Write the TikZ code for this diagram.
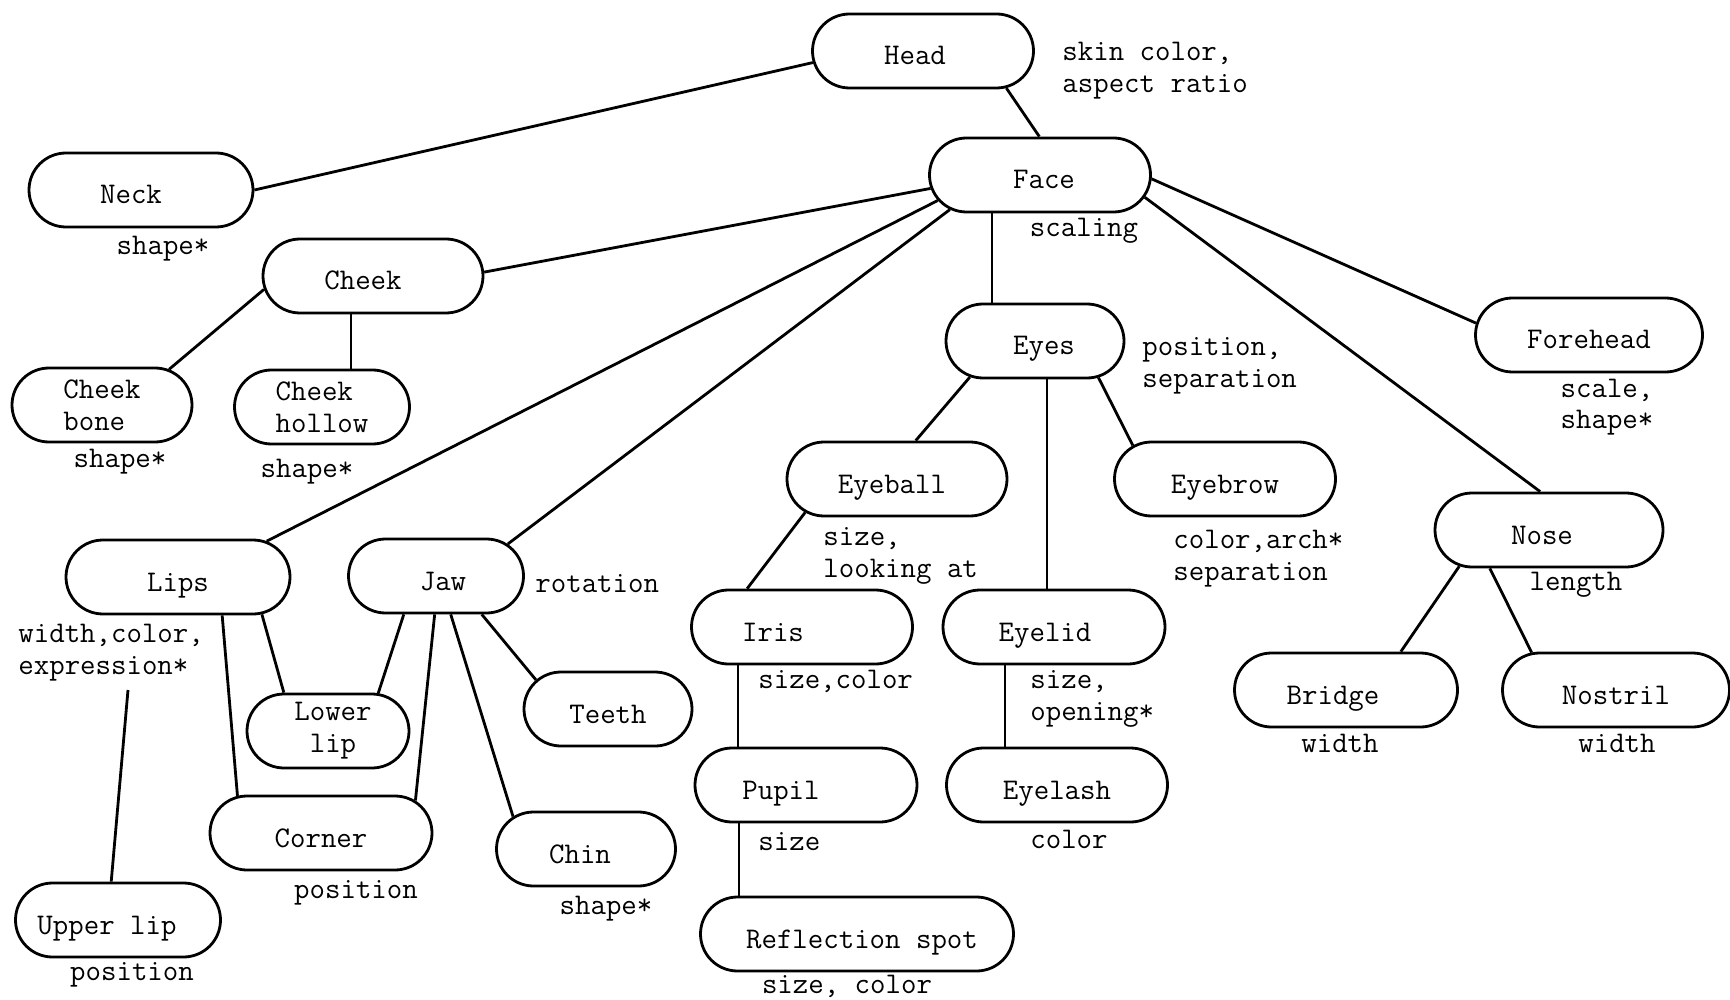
\documentclass[tikz,border=0pt]{standalone}
\usetikzlibrary{shapes.misc}
\newcommand\facett{\fontsize{15pt}{16pt}\selectfont\ttfamily}
\begin{document}
\begin{tikzpicture}[x=0.5pt,y=-0.5pt,
  boxbase/.style={draw, rounded rectangle, line width=1.4pt, minimum height=37pt, inner sep=0pt, font=\facett},
  box/.style={boxbase, text height=14pt, text depth=0pt},
  lbl/.style={font=\facett, inner sep=0pt, align=left},
  conn/.style={line width=1.4pt}]
\useasboundingbox (0,0) rectangle (1730,1000);
\fill[white] (0,0) rectangle (1730,1000);

% nodes
\node[box, minimum width=110.5pt] (head) at (923,51) {Head\hspace*{8pt}};
\node[box, minimum width=112pt] (neck) at (141,190) {Neck\hspace*{10pt}};
\node[box, minimum width=110.5pt] (face) at (1040,175) {\hspace*{4pt}Face};
\node[box, minimum width=110pt] (cheek) at (373,276) {Cheek\hspace*{10pt}};
\node[boxbase, align=left, minimum width=90pt] (cheekbone) at (102,405) {Cheek\\bone};
\node[boxbase, align=left, minimum width=87.5pt] (cheekhollow) at (322,407) {Cheek\\hollow};
\node[box, minimum width=89pt] (eyes) at (1035,341) {\hspace*{9pt}Eyes};
\node[box, minimum width=113.5pt] (forehead) at (1589,335) {Forehead};
\node[box, minimum width=110pt] (eyeball) at (897,479) {Eyeball\hspace*{5pt}};
\node[box, minimum width=110.5pt] (eyebrow) at (1225,479) {Eyebrow};
\node[box, minimum width=114pt] (nose) at (1549,530) {Nose\hspace*{7pt}};
\node[box, minimum width=112pt] (lips) at (178,577) {Lips};
\node[box, minimum width=87.5pt] (jaw) at (436,576) {\hspace*{7pt}Jaw};
\node[box, minimum width=110.5pt] (iris) at (802,627) {Iris\hspace*{29pt}};
\node[box, minimum width=111pt] (eyelid) at (1054,627) {Eyelid\hspace*{9pt}};
\node[box, minimum width=111.5pt] (bridge) at (1346,690) {Bridge\hspace*{13pt}};
\node[box, minimum width=113.5pt] (nostril) at (1616,690) {Nostril};
\node[boxbase, align=center, minimum width=81pt] (lowerlip) at (328,731) {\hspace*{5pt}Lower\\\hspace*{5pt}lip};
\node[box, minimum width=84pt] (teeth) at (608,709) {Teeth};
\node[box, minimum width=111pt] (pupil) at (806,785) {Pupil\hspace*{25pt}};
\node[box, minimum width=110.5pt] (eyelash) at (1057,785) {Eyelash};
\node[box, minimum width=111pt] (corner) at (321,833) {Corner};
\node[box, minimum width=89.5pt] (chin) at (586,849) {Chin\hspace*{6pt}};
\node[box, minimum width=102.5pt] (upperlip) at (118,920) {Upper lip\hspace*{11pt}};
\node[box, minimum width=156.5pt] (reflection) at (857,934) {\hspace*{5pt}Reflection spot};

% labels (multi-line: base anchor = last line's baseline)
\node[lbl, anchor=base west] (lhead) at (1062,93) {skin color,\\aspect ratio};
\node[lbl, anchor=base] (lneck) at (163,255) {shape*};
\node[lbl, anchor=base] (lface) at (1084,237) {scaling};
\node[lbl, anchor=base west] (leyes) at (1142,387) {position,\\separation};
\node[lbl, anchor=base] (lforehead) at (1607,429) {scale,\\shape*};
\node[lbl, anchor=base] (lcheekbone) at (120,467) {shape*};
\node[lbl, anchor=base] (lcheekhollow) at (307,477) {shape*};
\node[lbl, anchor=base west] (leyeball) at (823,577) {size,\\looking at};
\node[lbl, anchor=base west] (leyebrow) at (1173,580) {color,arch*\\separation};
\node[lbl, anchor=base] (lnose) at (1576,590) {length};
\node[lbl, anchor=base west] (ljaw) at (535,592) {rotation};
\node[lbl, anchor=base west] (llips) at (18,674) {width,color,\\expression*};
\node[lbl, anchor=base west] (liris) at (758,688) {size,color};
\node[lbl, anchor=base west] (leyelid) at (1030,720) {size,\\opening*};
\node[lbl, anchor=base] (lbridge) at (1340,752) {width};
\node[lbl, anchor=base] (lnostril) at (1617,752) {width};
\node[lbl, anchor=base west] (lpupil) at (758,850) {size};
\node[lbl, anchor=base] (leyelash) at (1069,848) {color};
\node[lbl, anchor=base] (lcorner) at (356,898) {position};
\node[lbl, anchor=base] (lchin) at (606,914) {shape*};
\node[lbl, anchor=base] (lupperlip) at (132,980) {position};
\node[lbl, anchor=base] (lreflection) at (847,993) {size, color};

\coordinate (uplend) at (128,690);

% connectors
\draw[conn] (head.186) -- (neck.east);
\draw[conn] (head.336) -- (face.91);
\draw[conn] (face.187) -- (cheek.2);
\draw[conn] (face.194) -- (lips.22);
\draw[conn] (face.201) -- (jaw.24);
\draw[conn] ([xshift=-24pt]face.south) -- ([xshift=-21.5pt]eyes.north);
\draw[conn] (face.358) -- (forehead.174);
\draw[conn] (face.348) -- (nose.103);
\draw[conn] (cheek.187) -- (cheekbone.28);
\draw[conn] ([xshift=-11pt]cheek.south) -- ([xshift=14.5pt]cheekhollow.north);
\draw[conn] (eyes.209) -- (eyeball.64);
\draw[conn] ([xshift=6pt]eyes.south) -- ([xshift=-3.5pt]eyelid.north);
\draw[conn] (eyes.330) -- (eyebrow.160);
\draw[conn] (eyeball.200) -- (iris.145);
\draw[conn] ([xshift=-32pt]iris.south) -- ([xshift=-34pt]pupil.north);
\draw[conn] ([xshift=-33.5pt]pupil.south) -- ([xshift=-59pt]reflection.north);
\draw[conn] ([xshift=-24.5pt]eyelid.south) -- ([xshift=-26pt]eyelash.north);
\draw[conn] (nose.202) -- (bridge.35);
\draw[conn] (nose.213) -- (nostril.156);
\draw[conn] (lips.336) -- (lowerlip.139);
\draw[conn] (lips.319) -- (corner.156);
\draw[conn] (jaw.230) -- (lowerlip.37);
\draw[conn] (jaw.268) -- (corner.19);
\draw[conn] (jaw.291) -- (chin.156);
\draw[conn] (jaw.320) -- (teeth.158);
\draw[conn] (uplend) -- (upperlip.100);
\end{tikzpicture}
\end{document}
